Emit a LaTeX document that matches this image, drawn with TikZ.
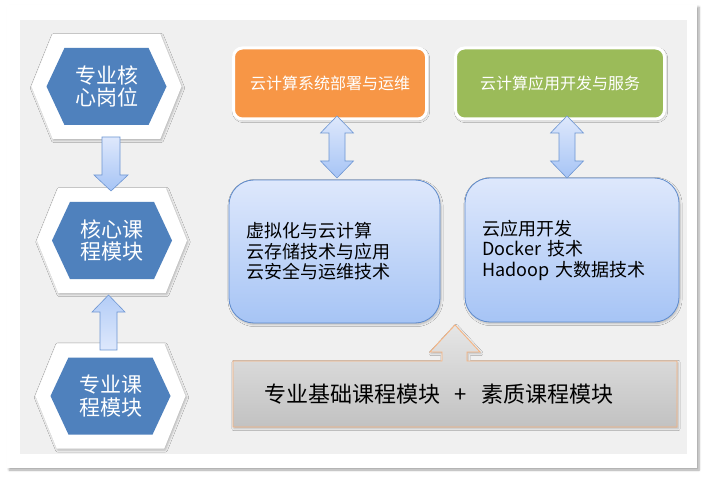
\documentclass[tikz,border=0pt]{standalone}
\usepackage{fontspec}
\setmainfont{Noto Sans CJK SC}
\usetikzlibrary{shapes,arrows,positioning,calc,shadows.blur}
\definecolor{panelgray}{RGB}{240,240,240}
\definecolor{hexblue}{RGB}{79,129,189}
\definecolor{cloudorange}{RGB}{247,150,70}
\definecolor{cloudgreen}{RGB}{155,187,89}
\definecolor{boxline}{RGB}{96,140,205}
\definecolor{boxtop}{RGB}{222,232,252}
\definecolor{boxbottom}{RGB}{166,196,245}
\definecolor{arrowline}{RGB}{110,150,210}
\definecolor{baseline}{RGB}{249,178,124}

\tikzset{
  hexout/.style={signal, signal to=east and west, signal pointer angle=136,
    fill=white, inner sep=0pt, minimum width=150pt, minimum height=105pt,
    blur shadow={shadow blur steps=4, shadow xshift=1pt, shadow yshift=-1.5pt, shadow opacity=25}},
  hexin/.style={signal, signal to=east and west, signal pointer angle=130,
    fill=hexblue, inner sep=0pt, minimum width=120pt, minimum height=77pt,
    text=white, align=center, font=\fontsize{21}{22.5}\selectfont},
  topic/.style={rounded corners=9pt, draw=white, line width=3pt,
    minimum height=71pt, text=white, font=\fontsize{16}{19}\selectfont,
    blur shadow={shadow blur steps=4, shadow xshift=1pt, shadow yshift=-1.5pt, shadow opacity=25}},
  listbox/.style={rounded corners=25pt, draw=boxline, line width=0.8pt,
    top color=boxtop, bottom color=boxbottom, align=left, inner xsep=17pt,
    font=\fontsize{18}{20.5}\selectfont,
    blur shadow={shadow blur steps=4, shadow xshift=1pt, shadow yshift=-1.5pt, shadow opacity=25}},
  bluearrow/.style={draw=arrowline, line width=0.6pt, line join=miter}
}

\begin{document}
\begin{tikzpicture}[x=1pt,y=-1pt]
\useasboundingbox (0,0) rectangle (707,481);

% frame and panel
\node (frame) [fill=white, minimum width=690pt, minimum height=463pt, inner sep=0pt,
  blur shadow={shadow blur steps=6, shadow xshift=2pt, shadow yshift=-2pt, shadow opacity=35}] at (352,236.5) {};
\node (panel) [fill=panelgray, minimum width=667pt, minimum height=434pt, inner sep=0pt] at (353.5,237) {};

% left column
\node (postOut) [hexout] at (106.5,86.5) {};
\node (post) [hexin] at (106.5,86.5) {专业核\\心岗位};
\node (coreOut) [hexout] at (112,240.5) {};
\node (core) [hexin] at (112,240.5) {核心课\\程模块};
\node (majorOut) [hexout] at (110.5,396) {};
\node (major) [hexin] at (110.5,396) {专业课\\程模块};

% block arrows between the hexagons
\coordinate (downArr) at (111,137);
\coordinate (upArr) at (108.5,295);
\path[bluearrow, top color=boxtop, bottom color=boxbottom]
  ([xshift=-9pt]downArr) -- ++(18,0) -- ++(0,38) -- ++(8,0) -- ++(-17,16)
  -- ++(-17,-16) -- ++(8,0) -- cycle;
\path[bluearrow, top color=boxbottom!85, bottom color=boxtop]
  (upArr) -- ++(16.5,17) -- ++(-8,0) -- ++(0,38) -- ++(-17,0) -- ++(0,-38)
  -- ++(-8,0) -- cycle;

% top row
\node (deploy) [topic, fill=cloudorange, minimum width=193pt] at (330,83.5) {云计算系统部署与运维};
\node (service) [topic, fill=cloudgreen, minimum width=209pt] at (560,83.5) {云计算应用开发与服务};

% middle row
\node (virt) [listbox, text width=177pt, minimum height=143pt] at (334.5,251.5)
  {虚拟化与云计算\\云存储技术与应用\\云安全与运维技术};
\node (app) [listbox, text width=180pt, minimum height=144pt] at (572,250)
  {云应用开发\\Docker 技术\\Hadoop 大数据技术};

% double arrows
\foreach \n/\x in {linkA/337, linkB/567} {
  \coordinate (\n) at (\x,116);
  \path[bluearrow, top color=boxtop, bottom color=boxbottom]
    (\n) -- ++(16.5,17) -- ++(-8.5,0) -- ++(0,28) -- ++(8.5,0) -- ++(-16.5,17)
    -- ++(-16.5,-17) -- ++(8.5,0) -- ++(0,-28) -- ++(-8.5,0) -- cycle;
}

% base module with arrow tab
\path[draw=baseline, line width=0.8pt, top color=gray!20, bottom color=gray!48,
  blur shadow={shadow blur steps=4, shadow xshift=1pt, shadow yshift=-1.5pt, shadow opacity=25}]
  (233,361) -- (442,361) -- (442,352) -- (430,352) -- (455,325) -- (480,352)
  -- (467,352) -- (467,361) -- (677,361) -- (677,427) -- (233,427) -- cycle;
\node (base) [font=\fontsize{22}{24}\selectfont] at (439,394)
  {专业基础课程模块\hspace{14pt}+\hspace{14pt}素质课程模块};
\end{tikzpicture}
\end{document}
